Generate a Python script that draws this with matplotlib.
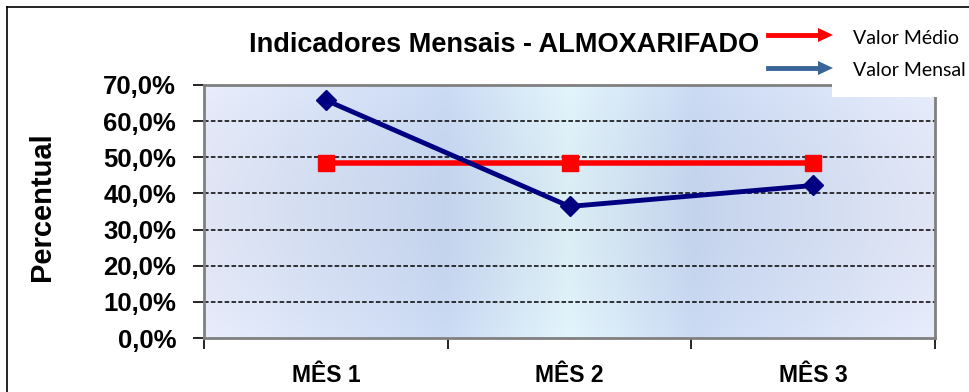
import matplotlib

matplotlib.use("Agg")

import matplotlib.pyplot as plt
import numpy as np
from matplotlib.patches import Rectangle
from matplotlib.ticker import FuncFormatter, MultipleLocator

# Monthly indicator data (fractions)
meses = ["MÊS 1", "MÊS 2", "MÊS 3"]
valor_mensal = [0.658, 0.364, 0.422]
valor_medio = [0.483, 0.483, 0.483]

titulo = "Indicadores Mensais - ALMOXARIFADO"
rotulo_y = "Percentual"
legenda = ["Valor Médio", "Valor Mensal"]

W, H = 969, 392
fig = plt.figure(figsize=(W / 100, H / 100), dpi=100)
fig.patch.set_facecolor("white")

# outer chart-area frame (only top/left visible)
fig.add_artist(plt.Line2D([7 / W, 7 / W], [0, 1 - 7 / H], color="black", lw=1.2,
                          transform=fig.transFigure))
fig.add_artist(plt.Line2D([7 / W, 1], [1 - 7 / H, 1 - 7 / H], color="black", lw=1.2,
                          transform=fig.transFigure))

left, right, top, bottom = 204, 935, 85, 338
ax = fig.add_axes([left / W, 1 - bottom / H, (right - left) / W, (bottom - top) / H])

# plot-area gradient fill
xs = np.linspace(0, 1, 400)
stops = [0.0, 0.33, 0.5, 0.67, 1.0]
cols = np.array([
    [0.88, 0.90, 0.96],
    [0.77, 0.83, 0.93],
    [0.86, 0.93, 0.96],
    [0.77, 0.83, 0.93],
    [0.88, 0.90, 0.96],
])
row = np.stack([np.interp(xs, stops, cols[:, k]) for k in range(3)], axis=-1)
ys = np.linspace(-1, 1, 100)[:, None, None]
grad = np.clip(row[None, :, :] + 0.03 * (ys ** 2), 0, 1)
ax.imshow(grad, extent=(-0.5, 2.5, 0, 0.7), aspect="auto", zorder=0,
          interpolation="bilinear")

x = np.arange(len(meses))
ax.plot(x, valor_medio, color="#ff0000", lw=4, marker="s", ms=11,
        mec="#ff0000", mfc="#ff0000", zorder=3)
ax.plot(x, valor_mensal, color="#000080", lw=3.5, marker="D", ms=10,
        mec="#000080", mfc="#000080", zorder=4)

ax.set_xlim(-0.5, 2.5)
ax.set_ylim(0, 0.7)
ax.yaxis.set_major_locator(MultipleLocator(0.1))
ax.yaxis.set_major_formatter(FuncFormatter(lambda v, p: f"{v * 100:.1f}%".replace(".", ",")))
for yv in np.arange(0.1, 0.65, 0.1):
    ax.axhline(yv, color="black", lw=1.1, ls=(0, (3, 1.5)), zorder=1)

ax.set_xticks([-0.5, 0.5, 1.5, 2.5])
ax.set_xticklabels([])
ax.set_xticks(x, minor=True)
ax.set_xticklabels(meses, minor=True, fontsize=16.5, fontweight="bold",
                   family="Liberation Sans")
ax.tick_params(axis="x", which="major", length=8, width=1.2, color="black")
ax.tick_params(axis="x", which="minor", length=0, pad=19)
ax.tick_params(axis="y", length=8, width=1.2, color="black", pad=12)
for lbl in ax.get_yticklabels():
    lbl.set_fontsize(18.5)
    lbl.set_fontweight("bold")
    lbl.set_family("Liberation Sans")

for s in ax.spines.values():
    s.set_color("#808080")
    s.set_linewidth(2)

fig.text(42 / W, 1 - 207 / H, rotulo_y, rotation=90, ha="center", va="center",
         fontsize=21, fontweight="bold", family="Liberation Sans")
fig.text(504 / W, 1 - 45 / H, titulo, ha="center", va="center", fontsize=19.5,
         fontweight="bold", family="Liberation Sans")

# legend box over the top-right corner of the plot area
fig.add_artist(Rectangle((832 / W, 1 - 97 / H), (W - 832) / W, 67 / H,
                         transform=fig.transFigure, facecolor="white",
                         edgecolor="none", zorder=5))
for yy, cor, txt in [(35, "#ff0000", legenda[0]), (68, "#3a6598", legenda[1])]:
    fig.add_artist(plt.Line2D([768 / W, 822 / W], [1 - yy / H, 1 - yy / H],
                              color=cor, lw=3.5, transform=fig.transFigure, zorder=6))
    fig.add_artist(plt.Polygon([[818 / W, 1 - (yy - 7) / H], [833 / W, 1 - yy / H],
                                [818 / W, 1 - (yy + 7) / H]], closed=True,
                               facecolor=cor, edgecolor="none",
                               transform=fig.transFigure, zorder=6))
    fig.text(853 / W, 1 - (yy + 3) / H, txt, ha="left", va="center", fontsize=14,
             family="Lato", zorder=7)

fig.savefig("out.png", dpi=100)
